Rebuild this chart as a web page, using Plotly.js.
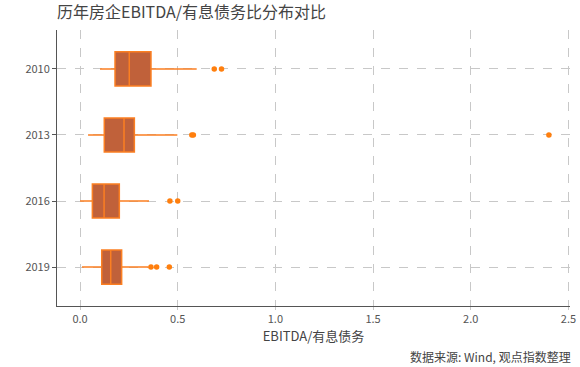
<!DOCTYPE html>
<html><head><meta charset="utf-8">
<script src="https://cdn.plot.ly/plotly-3.0.1.min.js"></script>
<style>body{margin:0;padding:0;}#chart{width:580px;height:367px;}</style>
</head><body><div id="chart"></div>
<script>
const years = ['2010', '2013', '2016', '2019'];
const q1 = [0.179, 0.124, 0.063, 0.111];
const median = [0.252, 0.225, 0.123, 0.157];
const q3 = [0.363, 0.278, 0.201, 0.213];
const lowerFence = [0.102, 0.041, 0.0, 0.010];
const upperFence = [0.597, 0.498, 0.353, 0.351];
const outlierX = [0.687, 0.724, 0.572, 0.580, 2.40, 0.460, 0.500, 0.363, 0.392, 0.457];
const outlierY = ['2010', '2010', '2013', '2013', '2013', '2016', '2016', '2019', '2019', '2019'];
const xTicks = [0.0, 0.5, 1.0, 1.5, 2.0, 2.5];
const xTickText = ['0.0', '0.5', '1.0', '1.5', '2.0', '2.5'];

const font = '"Noto Sans CJK SC", "DejaVu Sans", sans-serif';
const traces = [
  {
    type: 'box', orientation: 'h', y: years,
    q1: q1, median: median, q3: q3, lowerfence: lowerFence, upperfence: upperFence,
    fillcolor: '#c0613a', line: {color: '#fb7f22', width: 1.5},
    whiskerwidth: 0, boxpoints: false, hoverinfo: 'x', showlegend: false
  },
  {
    type: 'scatter', mode: 'markers', x: outlierX, y: outlierY,
    marker: {color: '#ff7f0e', size: 5.5}, showlegend: false, hoverinfo: 'x'
  }
];
const layout = {
  width: 580, height: 367,
  margin: {l: 57, r: 10, t: 30, b: 61},
  paper_bgcolor: '#ffffff', plot_bgcolor: '#ffffff',
  font: {family: font, color: '#444444', size: 11},
  title: {text: '历年房企EBITDA/有息债务比分布对比', x: 0, xref: 'paper', xanchor: 'left', y: 0.965, yanchor: 'middle', font: {size: 16, color: '#444444', family: font}},
  boxgap: 0.26,
  xaxis: {
    range: [-0.118, 2.508], tickvals: xTicks, ticktext: xTickText,
    showgrid: true, gridcolor: '#c8c8c8', griddash: 'dash', gridwidth: 1,
    zeroline: false, showline: true, linecolor: '#555555', linewidth: 1,
    ticks: 'outside', ticklen: 3, tickcolor: '#c8c8c8',
    tickfont: {size: 11, color: '#555555'},
    title: {text: 'EBITDA/有息债务', font: {size: 13, color: '#444444'}, standoff: 0}
  },
  yaxis: {
    type: 'category', categoryorder: 'array', categoryarray: years.slice().reverse(),
    range: [-0.59, 3.59],
    showgrid: true, gridcolor: '#c8c8c8', griddash: 'dash', gridwidth: 1,
    zeroline: false, showline: true, linecolor: '#555555', linewidth: 1,
    ticks: 'outside', ticklen: 4, tickcolor: '#555555',
    tickfont: {size: 11, color: '#555555'}
  },
  annotations: [{
    text: '数据来源: Wind, 观点指数整理', xref: 'paper', yref: 'paper',
    x: 1.006, y: -0.145, xanchor: 'right', yanchor: 'top', showarrow: false,
    font: {size: 12, color: '#444444'}
  }]
};
Plotly.newPlot('chart', traces, layout, {displayModeBar: false, staticPlot: true});
</script></body></html>
